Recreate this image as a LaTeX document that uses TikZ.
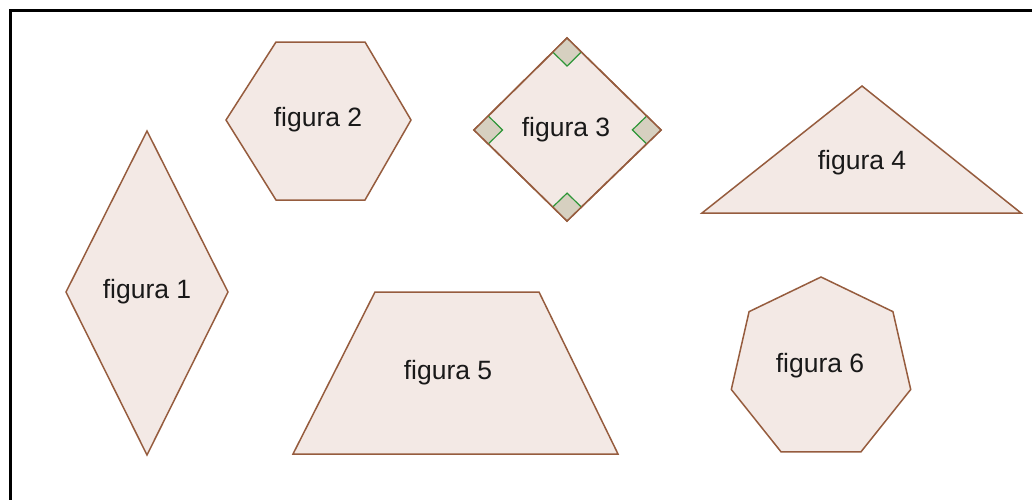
\documentclass[tikz,border=0pt]{standalone}
\usepackage{fontspec}
\setmainfont{Liberation Sans}
\usetikzlibrary{calc}
\definecolor{shapefill}{RGB}{243,233,229}
\definecolor{shapeline}{RGB}{150,92,62}
\definecolor{markfill}{RGB}{214,208,192}
\definecolor{markgreen}{RGB}{45,150,55}
\definecolor{txt}{RGB}{25,25,25}
\begin{document}
\begin{tikzpicture}[x=1pt,y=-1pt,
  polyshape/.style={fill=shapefill,draw=shapeline,line width=1.5pt,line join=miter},
  lbl/.style={font=\fontsize{26.5}{26.5}\selectfont,text=txt,inner sep=0pt},
  framebar/.style={draw=black,line width=3pt},
  rightmark/.style={fill=markfill,draw=none},
  markside/.style={draw=markgreen,line width=1.2pt}]
\useasboundingbox (0,0) rectangle (1032,499);
\fill[white] (0,0) rectangle (1032,499);
% frame
\coordinate (fbl) at (10.5,500);
\coordinate (ftl) at (10.5,10.5);
\coordinate (ftr) at (1033,10.5);
\draw[framebar] (fbl) -- (ftl) -- (ftr);

% figura 1 : rhombus
\coordinate (a1) at (147,131);
\coordinate (a2) at (228,292);
\coordinate (a3) at (147,455);
\coordinate (a4) at (66,292);
\draw[polyshape] (a1) -- (a2) -- (a3) -- (a4) -- cycle;
\node[lbl] (f1) at (147,292) {figura 1};

% figura 2 : hexagon
\coordinate (b1) at (276,42);
\coordinate (b2) at (365,42);
\coordinate (b3) at (411,120);
\coordinate (b4) at (365,200);
\coordinate (b5) at (276,200);
\coordinate (b6) at (226,120);
\draw[polyshape] (b1) -- (b2) -- (b3) -- (b4) -- (b5) -- (b6) -- cycle;
\node[lbl] (f2) at (318,120) {figura 2};

% figura 3 : square with right-angle marks
\coordinate (cT) at (567,38);
\coordinate (cR) at (661,130);
\coordinate (cB) at (567,221);
\coordinate (cL) at (474,130);
\draw[polyshape] (cT) -- (cR) -- (cB) -- (cL) -- cycle;
\foreach \v/\p/\n in {cT/cL/cR, cR/cT/cB, cB/cR/cL, cL/cB/cT}{
  \coordinate (m1) at ($(\v)!20pt!(\p)$);
  \coordinate (m2) at ($(\v)!20pt!(\n)$);
  \coordinate (m3) at ($(m1)+(m2)-(\v)$);
  \fill[rightmark] (\v) -- (m1) -- (m3) -- (m2) -- cycle;
  \draw[markside] (m1) -- (m3) -- (m2);
}
\draw[draw=shapeline,line width=1.5pt,line join=miter] (cT) -- (cR) -- (cB) -- (cL) -- cycle;
\node[lbl] (f3) at (566,130) {figura 3};

% figura 4 : triangle
\coordinate (d1) at (862,86);
\coordinate (d2) at (1021,213);
\coordinate (d3) at (702,213);
\draw[polyshape] (d1) -- (d2) -- (d3) -- cycle;
\node[lbl] (f4) at (862,163) {figura 4};

% figura 5 : trapezoid
\coordinate (e1) at (375,292);
\coordinate (e2) at (539,292);
\coordinate (e3) at (618,454);
\coordinate (e4) at (293,454);
\draw[polyshape] (e1) -- (e2) -- (e3) -- (e4) -- cycle;
\node[lbl] (f5) at (448,373) {figura 5};

% figura 6 : heptagon
\draw[polyshape] (821,277)
  \foreach \k in {1,...,6}{ -- ($(821,369)+({90+\k*360/7}:92 and -92)$) } -- cycle;
\node[lbl] (f6) at (820,366) {figura 6};
\end{tikzpicture}
\end{document}
